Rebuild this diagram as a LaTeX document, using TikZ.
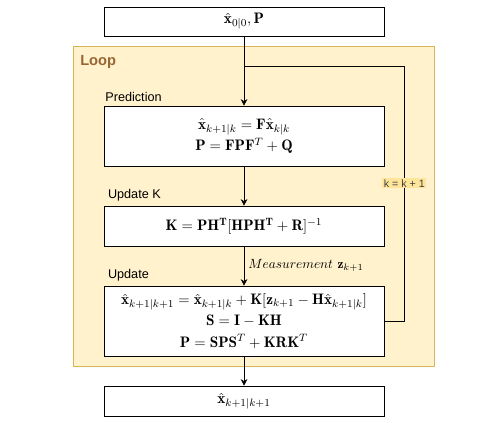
\documentclass[tikz,border=0pt]{standalone}
\usepackage{amsmath}
\usepackage{bm}
\usepackage{fontspec}
\setsansfont{Liberation Sans}
\usepackage{xcolor}
\definecolor{loopfill}{HTML}{FFF2CC}
\definecolor{loopdraw}{HTML}{D6B656}
\definecolor{looptext}{HTML}{996633}
\definecolor{incfill}{HTML}{FFE599}
\usetikzlibrary{arrows.meta, positioning, calc}

\tikzset{
  box/.style={draw, fill=white, minimum width=210pt, align=center, inner sep=3pt,
    font=\fontsize{11.4}{16}\selectfont},
  loopbox/.style={draw=loopdraw, fill=loopfill, minimum width=270.75pt, minimum height=240pt},
  steplabel/.style={font=\sffamily\fontsize{9.5}{11}\selectfont, anchor=south west, inner sep=1pt},
  flow/.style={-{Stealth[length=5pt, width=5pt]}},
}

\begin{document}
\begin{tikzpicture}[x=0.75pt, y=-0.75pt]
    \useasboundingbox (0,0) rectangle (488,423);
    % Loop area
    \node[loopbox] (loop) at (253.5,206) {};
    \node[font=\sffamily\bfseries\fontsize{11}{12}\selectfont, text=looptext, anchor=west, inner sep=0pt] (looplbl) at (80,62) {Loop};
    % Boxes
    \node[box, minimum height=21.75pt] (init) at (244,21.5) {$\hat{\mathbf{x}}_{0|0}, \mathbf{P}$};
    \node[box, minimum height=45pt] (pred) at (244,136)
      {$\hat{\mathbf{x}}_{k+1|k} = \mathbf{F}\hat{\mathbf{x}}_{k|k}$\\
       $\mathbf{P} = \mathbf{F}\mathbf{P}\mathbf{F}^{T} + \mathbf{Q}$};
    \node[box, minimum height=30pt] (gain) at (244,226)
      {$\mathbf{K} = \mathbf{P}\mathbf{H}^{\mathbf{T}}[\mathbf{H}\mathbf{P}\mathbf{H}^{\mathbf{T}} + \mathbf{R}]^{-1}$};
    \node[box, minimum height=52.5pt] (update) at (244,321)
      {$\hat{\mathbf{x}}_{k+1|k+1} = \hat{\mathbf{x}}_{k+1|k} + \mathbf{K}[\mathbf{z}_{k+1} - \mathbf{H}\hat{\mathbf{x}}_{k+1|k}]$\\
       $\mathbf{S} = \mathbf{I} - \mathbf{K}\mathbf{H}$\\
       $\mathbf{P} = \mathbf{S}\mathbf{P}\mathbf{S}^{T} + \mathbf{K}\mathbf{R}\mathbf{K}^{T}$};
    \node[box, minimum height=22.5pt] (result) at (244,401) {$\hat{\mathbf{x}}_{k+1|k+1}$};
    % Step labels
    \node[steplabel, above right=2pt and 0pt of pred.north west] (predlbl) {Prediction};
    \node[steplabel, above right=2pt and 2pt of gain.north west] (gainlbl) {Update K};
    \node[steplabel, above right=2pt and 2pt of update.north west] (updatelbl) {Update};
    % Connectors
    \coordinate (join) at (244,66);
    \draw[flow] (init) -- (pred);
    \draw[flow] (pred) -- (gain);
    \draw[flow] (gain) -- (update)
      node[pos=0.5, right, inner sep=3pt] {$Measurement\ \mathbf{z}_{k+1}$};
    \draw[flow] (update) -- (result);
    \draw (update.east) -- ++(15pt,0) |- (join)
      node[pos=0.27, fill=incfill, text=black!75, font=\sffamily\fontsize{8}{9}\selectfont, inner sep=1pt] {k = k + 1};
\end{tikzpicture}
\end{document}
